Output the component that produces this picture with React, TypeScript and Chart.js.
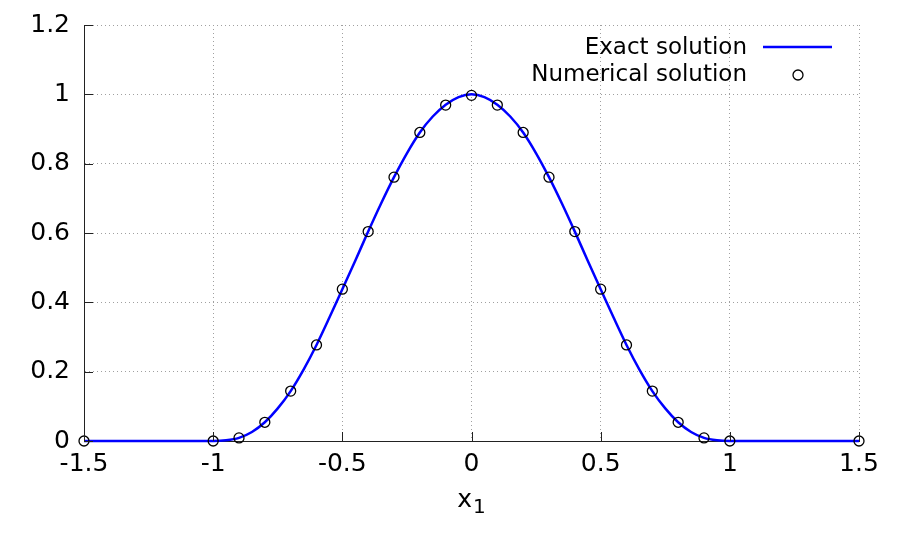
import React, { useEffect, useRef } from "react";
import { Chart, registerables } from "chart.js";

Chart.register(...registerables);

// Numerical solution sample points
const numX = [-1.5, -1, -0.9, -0.8, -0.7, -0.6, -0.5, -0.4, -0.3, -0.2, -0.1, 0, 0.1, 0.2, 0.3, 0.4, 0.5, 0.6, 0.7, 0.8, 0.9, 1, 1.5];
const numY = [0, 0, 0.009, 0.054, 0.144, 0.277, 0.438, 0.604, 0.761, 0.890, 0.969, 0.997, 0.969, 0.890, 0.761, 0.604, 0.438, 0.277, 0.144, 0.054, 0.009, 0, 0];

// Exact solution curve
const exactX = [-1.5, -1, -0.95, -0.9, -0.85, -0.8, -0.75, -0.7, -0.65, -0.6, -0.55, -0.5, -0.45, -0.4, -0.35, -0.3, -0.25, -0.2, -0.15, -0.1, -0.05, 0, 0.05, 0.1, 0.15, 0.2, 0.25, 0.3, 0.35, 0.4, 0.45, 0.5, 0.55, 0.6, 0.65, 0.7, 0.75, 0.8, 0.85, 0.9, 0.95, 1, 1.5];
const exactY = [0, 0, 0.002, 0.009, 0.026, 0.054, 0.094, 0.144, 0.206, 0.277, 0.356, 0.438, 0.520, 0.604, 0.685, 0.761, 0.830, 0.890, 0.936, 0.970, 0.992, 1.0, 0.992, 0.970, 0.936, 0.890, 0.830, 0.761, 0.685, 0.604, 0.520, 0.438, 0.356, 0.277, 0.206, 0.144, 0.094, 0.054, 0.026, 0.009, 0.002, 0, 0];

const xTickValues = [-1.5, -1, -0.5, 0, 0.5, 1, 1.5];
const xTickLabels = ["-1.5", "-1", "-0.5", "0", "0.5", "1", "1.5"];
const yTickValues = [0, 0.2, 0.4, 0.6, 0.8, 1, 1.2];
const yTickLabels = ["0", "0.2", "0.4", "0.6", "0.8", "1", "1.2"];

const seriesNames = ["Exact solution", "Numerical solution"];
const xTitleMain = "x";
const xTitleSub = "1";

const FONT = '"DejaVu Sans", sans-serif';

function labelFor(values: number[], labels: string[], v: number) {
  for (let i = 0; i < values.length; i++) {
    if (Math.abs(values[i] - v) < 1e-6) return labels[i];
  }
  return "";
}

const decorPlugin = {
  id: "gnuplotDecor",
  afterDraw(chart: any) {
    const ctx = chart.ctx as CanvasRenderingContext2D;
    const area = chart.chartArea;
    const xs = chart.scales.x;
    const ys = chart.scales.y;
    ctx.save();
    // inward ticks
    ctx.strokeStyle = "#222";
    ctx.lineWidth = 1;
    ctx.beginPath();
    for (const v of yTickValues) {
      const py = Math.round(ys.getPixelForValue(v)) + 0.5;
      ctx.moveTo(area.left, py);
      ctx.lineTo(area.left + 9, py);
    }
    for (const v of xTickValues) {
      const px = Math.round(xs.getPixelForValue(v)) + 0.5;
      ctx.moveTo(px, area.bottom);
      ctx.lineTo(px, area.bottom - 9);
    }
    ctx.stroke();

    // legend
    const textRight = area.right - 112;
    const row1 = area.top + 23;
    const row2 = area.top + 50;
    ctx.fillStyle = "#000";
    ctx.font = `23px ${FONT}`;
    ctx.textAlign = "right";
    ctx.textBaseline = "middle";
    ctx.fillText(seriesNames[0], textRight, row1);
    ctx.fillText(seriesNames[1], textRight, row2);
    ctx.strokeStyle = "#0000ff";
    ctx.lineWidth = 2.5;
    ctx.beginPath();
    ctx.moveTo(textRight + 16, row1 - 1);
    ctx.lineTo(textRight + 85, row1 - 1);
    ctx.stroke();
    ctx.strokeStyle = "#000";
    ctx.lineWidth = 1.3;
    ctx.beginPath();
    ctx.arc(textRight + 51, row2, 5, 0, Math.PI * 2);
    ctx.stroke();

    // x axis title x_1
    ctx.textAlign = "left";
    ctx.textBaseline = "alphabetic";
    ctx.font = `25px ${FONT}`;
    const wMain = ctx.measureText(xTitleMain).width;
    ctx.font = `20px ${FONT}`;
    const wSub = ctx.measureText(xTitleSub).width;
    const cx = (area.left + area.right) / 2;
    const startX = cx - (wMain + wSub + 1) / 2;
    ctx.font = `25px ${FONT}`;
    ctx.fillText(xTitleMain, startX, area.bottom + 66);
    ctx.font = `20px ${FONT}`;
    ctx.fillText(xTitleSub, startX + wMain + 1, area.bottom + 72);
    ctx.restore();
  },
};

export default function App() {
  const ref = useRef<HTMLCanvasElement | null>(null);
  useEffect(() => {
    document.body.style.margin = "0";
    if (!ref.current) return;
    const chart = new Chart(ref.current, {
      type: "scatter",
      data: {
        datasets: [
          {
            label: seriesNames[1],
            data: numX.map((x, i) => ({ x, y: numY[i] })),
            showLine: false,
            pointRadius: 5,
            pointHoverRadius: 5,
            pointBorderWidth: 1.3,
            pointBorderColor: "#000",
            pointBackgroundColor: "rgba(0,0,0,0)",
            clip: false,
          } as any,
          {
            label: seriesNames[0],
            data: exactX.map((x, i) => ({ x, y: exactY[i] })),
            showLine: true,
            borderColor: "#0000ff",
            borderWidth: 2.5,
            pointRadius: 0,
            cubicInterpolationMode: "monotone",
            clip: false,
          } as any,
        ],
      },
      options: {
        animation: false,
        responsive: false,
        events: [],
        layout: { padding: { left: 0, right: 40, top: 25, bottom: 0 } },
        plugins: { legend: { display: false }, tooltip: { enabled: false } },
        scales: {
          x: {
            type: "linear",
            min: -1.5,
            max: 1.5,
            afterFit: (s: any) => {
              s.height = 99;
              s.paddingLeft = 0;
              s.paddingRight = 0;
            },
            afterBuildTicks: (s: any) => {
              s.ticks = xTickValues.map((v) => ({ value: v }));
            },
            ticks: {
              callback: (v: any) => labelFor(xTickValues, xTickLabels, Number(v)),
              font: { family: FONT, size: 25 },
              color: "#000",
              padding: 8,
              maxRotation: 0,
              autoSkip: false,
            },
            grid: {
              color: "#a0a0a0",
              lineWidth: 1,
              drawTicks: false,
            },
            border: { display: true, color: "#222", width: 1, dash: [1, 3] },
          } as any,
          y: {
            type: "linear",
            min: 0,
            max: 1.2,
            afterFit: (s: any) => {
              s.width = 84;
              s.paddingTop = 0;
              s.paddingBottom = 0;
            },
            afterBuildTicks: (s: any) => {
              s.ticks = yTickValues.map((v) => ({ value: v }));
            },
            ticks: {
              callback: (v: any) => labelFor(yTickValues, yTickLabels, Number(v)),
              font: { family: FONT, size: 25 },
              color: "#000",
              padding: 14,
              autoSkip: false,
            },
            grid: {
              color: "#a0a0a0",
              lineWidth: 1,
              drawTicks: false,
            },
            border: { display: true, color: "#222", width: 1, dash: [1, 3] },
          } as any,
        },
      },
      plugins: [decorPlugin],
    });
    return () => chart.destroy();
  }, []);
  return <canvas ref={ref} width={899} height={540} style={{ display: "block" }} />;
}
